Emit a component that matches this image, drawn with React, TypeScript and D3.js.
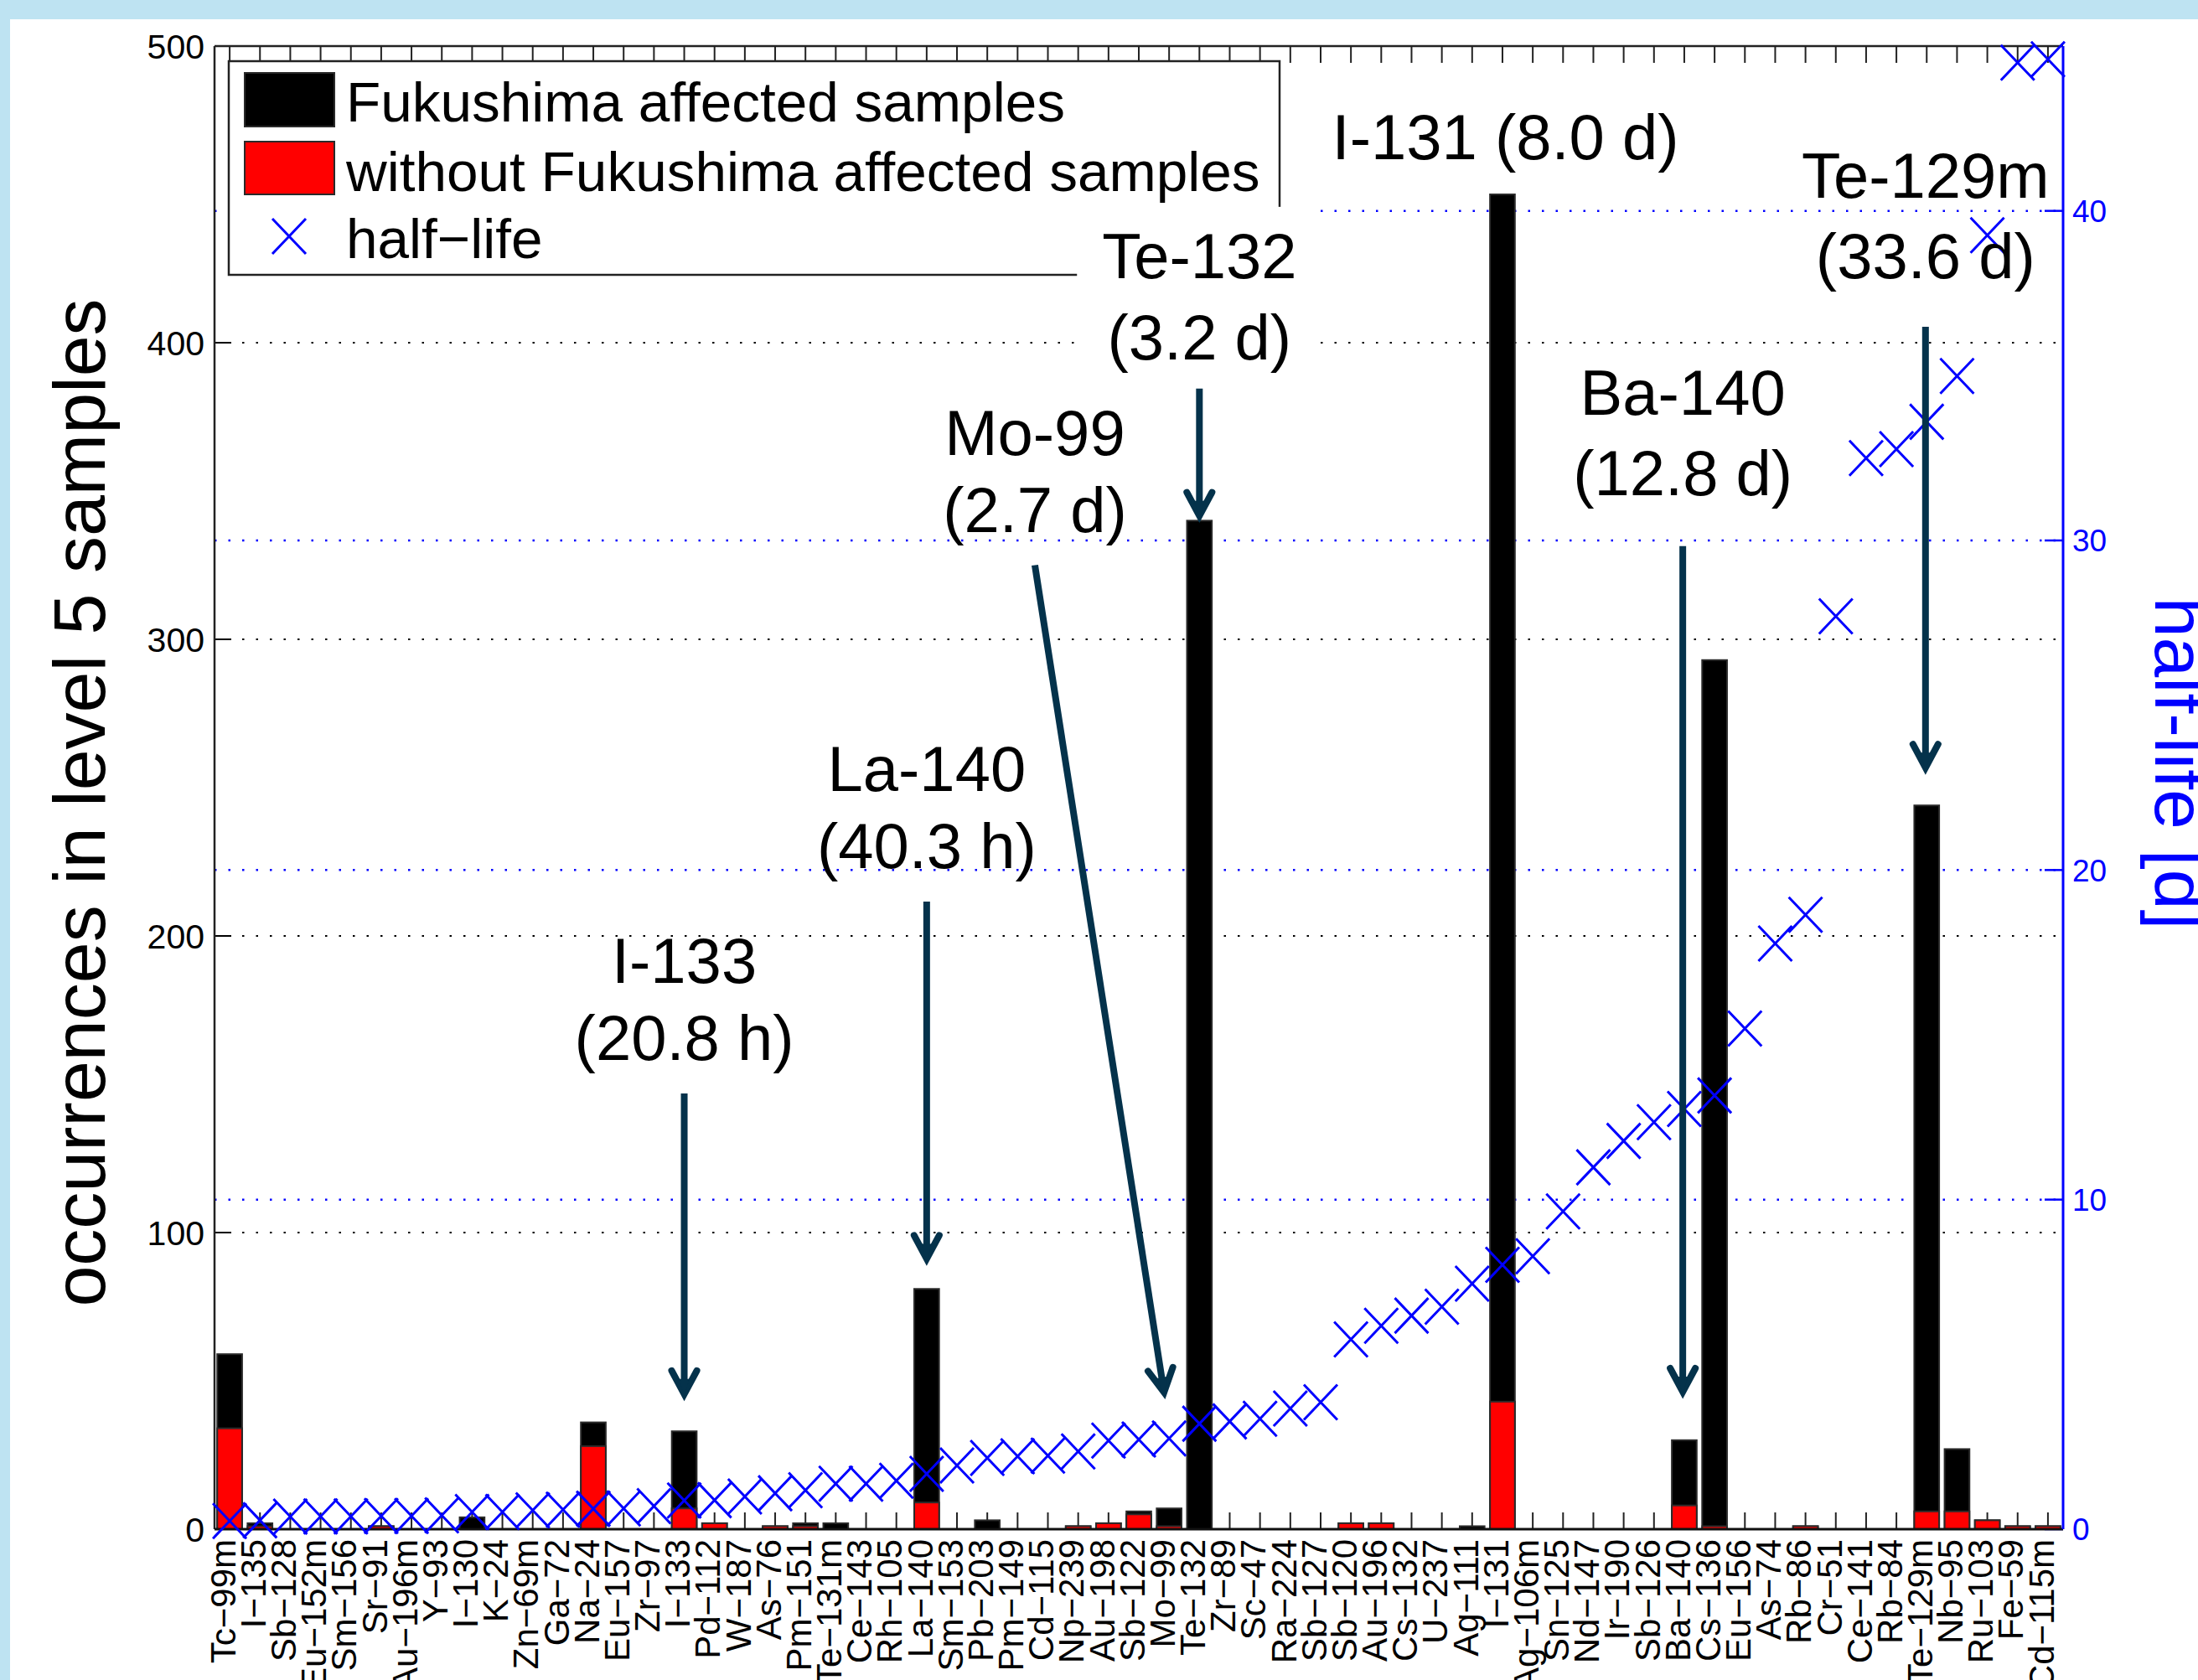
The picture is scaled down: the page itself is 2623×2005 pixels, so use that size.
import React, { useEffect } from "react";
import * as d3 from "d3";

// ---------- data ----------
const nuclides = [
  "Tc−99m", "I−135", "Sb−128", "Eu−152m", "Sm−156", "Sr−91", "Au−196m", "Y−93", "I−130", "K−24",
  "Zn−69m", "Ga−72", "Na−24", "Eu−157", "Zr−97", "I−133", "Pd−112", "W−187", "As−76", "Pm−151",
  "Te−131m", "Ce−143", "Rh−105", "La−140", "Sm−153", "Pb−203", "Pm−149", "Cd−115", "Np−239", "Au−198",
  "Sb−122", "Mo−99", "Te−132", "Zr−89", "Sc−47", "Ra−224", "Sb−127", "Sb−120", "Au−196", "Cs−132",
  "U−237", "Ag−111", "I−131", "Ag−106m", "Sn−125", "Nd−147", "Ir−190", "Sb−126", "Ba−140", "Cs−136",
  "Eu−156", "As−74", "Rb−86", "Cr−51", "Ce−141", "Rb−84", "Te−129m", "Nb−95", "Ru−103", "Fe−59",
  "Cd−115m",
];

// occurrences including Fukushima affected samples (black)
const fukushimaAffected = [
  59, 2, 0, 0, 0, 1, 0, 0, 4, 0,
  0, 0, 36, 0, 0, 33, 2, 0, 1, 2,
  2, 0, 0, 81, 0, 3, 0, 0, 1, 2,
  6, 7, 340, 0, 0, 0, 0, 2, 2, 0,
  0, 1, 450, 0, 0, 0, 0, 0, 30, 293,
  0, 0, 1, 0, 0, 0, 244, 27, 3, 1,
  1,
];

// occurrences without Fukushima affected samples (red)
const withoutFukushima = [
  34, 1, 0, 0, 0, 1, 0, 0, 0, 0,
  0, 0, 28, 0, 0, 7, 2, 0, 1, 1,
  0, 0, 0, 9, 0, 0, 0, 0, 1, 2,
  5, 1, 0, 0, 0, 0, 0, 2, 2, 0,
  0, 0, 43, 0, 0, 0, 0, 0, 8, 1,
  0, 0, 1, 0, 0, 0, 6, 6, 3, 1,
  1,
];

// half-life in days (blue crosses, right axis)
const halfLifeDays = [
  0.25, 0.27, 0.38, 0.39, 0.39, 0.40, 0.40, 0.42, 0.52, 0.52,
  0.57, 0.59, 0.62, 0.63, 0.70, 0.87, 0.88, 0.99, 1.09, 1.18,
  1.38, 1.38, 1.47, 1.68, 1.93, 2.16, 2.21, 2.23, 2.36, 2.69,
  2.72, 2.75, 3.20, 3.27, 3.35, 3.66, 3.85, 5.76, 6.17, 6.48,
  6.75, 7.45, 8.02, 8.28, 9.64, 10.98, 11.78, 12.35, 12.75, 13.16,
  15.19, 17.77, 18.64, 27.70, 32.50, 32.77, 33.60, 34.99, 39.26, 44.50,
  44.60,
];

const leftTicks = [0, 100, 200, 300, 400, 500];
const rightTicks = [0, 10, 20, 30, 40];
const leftGrid = [100, 200, 300, 400];
const rightGrid = [10, 20, 30, 40];

const legendLabels = ["Fukushima affected samples", "without Fukushima affected samples", "half−life"];

// annotations, in data coordinates (category index, left-axis value)
const annotations = [
  { lines: ["I-133", "(20.8 h)"], x: 15, y: [191.8, 165.8], arrow: [15, 146.9, 15, 44.4] },
  { lines: ["La-140", "(40.3 h)"], x: 23, y: [256.5, 230.5], arrow: [23, 211.6, 23, 90] },
  { lines: ["Mo-99", "(2.7 d)"], x: 26.57, y: [370, 344], arrow: [26.57, 325, 30.85, 45] },
  { lines: ["Te-132", "(3.2 d)"], x: 32, y: [429.4, 402], arrow: [32, 384.5, 32, 340.5], box: [27.96, 445.8, 36.0, 385] },
  { lines: ["I-131 (8.0 d)"], x: 42.1, y: [469.6] },
  { lines: ["Ba-140", "(12.8 d)"], x: 47.95, y: [383.3, 356.2], arrow: [47.95, 331.4, 47.95, 45.2] },
  { lines: ["Te-129m", "(33.6 d)"], x: 55.96, y: [456.5, 429.5], arrow: [55.96, 405.4, 55.96, 255.6] },
];

// ---------- layout ----------
const W = 2623;
const H = 2005;
const left = 256;
const right = 2462;
const top = 55;
const bottom = 1825;
const FONT = "'Liberation Sans', Arial, Helvetica, sans-serif";
const BLUE = "#0000ff";
const ARROW = "#04324b";

const x = d3.scaleLinear().domain([-0.5, nuclides.length - 0.5]).range([left, right]);
const yL = d3.scaleLinear().domain([0, 500]).range([bottom, top]);
const yR = d3.scaleLinear().domain([0, 45]).range([bottom, top]);
const bw = (x(1) - x(0)) * 0.82;

function Cross({ cx, cy, s = 20 }: { cx: number; cy: number; s?: number }) {
  return (
    <path
      d={`M${cx - s},${cy - s * 1.05}L${cx + s},${cy + s * 1.05}M${cx - s},${cy + s * 1.05}L${cx + s},${cy - s * 1.05}`}
      stroke={BLUE}
      strokeWidth={3}
      fill="none"
    />
  );
}

function Arrow({ a }: { a: number[] }) {
  const x1 = x(a[0]);
  const y1 = yL(a[1]);
  const x2 = x(a[2]);
  const y2 = yL(a[3]);
  const dx = x2 - x1;
  const dy = y2 - y1;
  const len = Math.hypot(dx, dy);
  const ux = dx / len;
  const uy = dy / len;
  const nx = -uy;
  const ny = ux;
  const L = 32;
  const Wd = 15;
  const wl = [x2 - L * ux + Wd * nx, y2 - L * uy + Wd * ny];
  const wr = [x2 - L * ux - Wd * nx, y2 - L * uy - Wd * ny];
  const tipIn = [x2 - 4 * ux, y2 - 4 * uy];
  return (
    <g>
      <line x1={x1} y1={y1} x2={x2 - 10 * ux} y2={y2 - 10 * uy} stroke={ARROW} strokeWidth={8} />
      <path
        d={`M${wl[0]},${wl[1]}L${tipIn[0]},${tipIn[1]}L${wr[0]},${wr[1]}`}
        stroke={ARROW}
        strokeWidth={8}
        strokeLinecap="round"
        strokeLinejoin="miter"
        fill="none"
      />
      <path
        d={`M${x2},${y2}L${x2 - 22 * ux + 6 * nx},${y2 - 22 * uy + 6 * ny}L${x2 - 22 * ux - 6 * nx},${y2 - 22 * uy - 6 * ny}Z`}
        fill={ARROW}
      />
    </g>
  );
}

export default function App() {
  useEffect(() => {
    document.body.style.margin = "0";
  }, []);

  const annF = 76;
  const idx = d3.range(nuclides.length);

  return (
    <svg width={W} height={H} style={{ display: "block", position: "absolute", left: 0, top: 0 }} fontFamily={FONT}>
      {/* background */}
      <rect x={0} y={0} width={W} height={H} fill="#bee3f2" />
      <rect x={12} y={23} width={W - 12} height={H - 23} fill="#ffffff" />

      {/* grid */}
      {leftGrid.map((v) => (
        <line key={"gl" + v} x1={left} x2={right} y1={yL(v)} y2={yL(v)} stroke="#000" strokeWidth={2} strokeDasharray="2.5 14" />
      ))}
      {rightGrid.map((v) => (
        <line key={"gr" + v} x1={left} x2={right} y1={yR(v)} y2={yR(v)} stroke={BLUE} strokeWidth={2.5} strokeDasharray="2.5 14" />
      ))}

      {/* ticks */}
      {idx.map((i) => (
        <g key={"t" + i}>
          <line x1={x(i)} x2={x(i)} y1={bottom} y2={bottom - 20} stroke="#222" strokeWidth={2} />
          <line x1={x(i)} x2={x(i)} y1={top} y2={top + 20} stroke="#222" strokeWidth={2} />
        </g>
      ))}
      {leftTicks.map((v) => (
        <line key={"lt" + v} x1={left} x2={left + 20} y1={yL(v)} y2={yL(v)} stroke="#000" strokeWidth={2} />
      ))}
      {rightTicks.map((v) => (
        <line key={"rt" + v} x1={right} x2={right - 22} y1={yR(v)} y2={yR(v)} stroke={BLUE} strokeWidth={2.5} />
      ))}

      {/* bars */}
      {idx.map((i) =>
        fukushimaAffected[i] > 0 ? (
          <rect
            key={"b" + i}
            x={x(i) - bw / 2}
            y={yL(fukushimaAffected[i])}
            width={bw}
            height={bottom - yL(fukushimaAffected[i])}
            fill="#000"
            stroke="#2a2a2a"
            strokeWidth={2}
          />
        ) : null
      )}
      {idx.map((i) =>
        withoutFukushima[i] > 0 ? (
          <rect
            key={"r" + i}
            x={x(i) - bw / 2}
            y={yL(withoutFukushima[i])}
            width={bw}
            height={bottom - yL(withoutFukushima[i])}
            fill="#ff0000"
            stroke="#2a2a2a"
            strokeWidth={2}
          />
        ) : null
      )}

      {/* axes lines */}
      <line x1={left} x2={left} y1={top} y2={bottom} stroke="#222" strokeWidth={2.5} />
      <line x1={left} x2={right} y1={top} y2={top} stroke="#222" strokeWidth={2.5} />
      <line x1={left} x2={right} y1={bottom} y2={bottom} stroke="#111" strokeWidth={3} />
      <line x1={right} x2={right} y1={top} y2={bottom} stroke={BLUE} strokeWidth={3} />

      {/* tick labels */}
      {leftTicks.map((v) => (
        <text key={"ll" + v} x={244} y={yL(v)} dy="0.36em" textAnchor="end" fontSize={41} fill="#000">
          {v}
        </text>
      ))}
      {rightTicks.map((v) => (
        <text key={"rl" + v} x={2473} y={yR(v)} dy="0.36em" textAnchor="start" fontSize={37} fill={BLUE}>
          {v}
        </text>
      ))}
      {idx.map((i) => (
        <text
          key={"xl" + i}
          transform={`translate(${x(i)},${1837}) rotate(-90)`}
          dy="0.16em"
          textAnchor="end"
          fontSize={42}
          fill="#000"
        >
          {nuclides[i]}
        </text>
      ))}

      {/* axis titles */}
      <text transform={`translate(125,958) rotate(-90)`} textAnchor="middle" fontSize={88} fill="#000">
        occurrences in level 5 samples
      </text>
      <text transform={`translate(2572,911) rotate(90)`} textAnchor="middle" fontSize={86} fill={BLUE}>
        half-life [d]
      </text>

      {/* legend */}
      <rect x={273} y={73} width={1254} height={255} fill="#fff" stroke="#222" strokeWidth={2.5} />
      <rect x={292} y={87} width={107} height={64} fill="#000" stroke="#2a2a2a" strokeWidth={2} />
      <rect x={292} y={169} width={107} height={63} fill="#ff0000" stroke="#2a2a2a" strokeWidth={2} />
      <Cross cx={345} cy={282} />
      {legendLabels.map((t, i) => (
        <text key={"lg" + i} x={413} y={[145, 228, 308][i]} fontSize={67.5} fill="#000">
          {t}
        </text>
      ))}

      {/* half-life crosses */}
      {idx.map((i) => (
        <Cross key={"c" + i} cx={x(i)} cy={yR(halfLifeDays[i])} />
      ))}

      {/* annotations */}
      {annotations.map((a, k) => (
        <g key={"an" + k}>
          {a.box ? (
            <rect
              x={x(a.box[0])}
              y={yL(a.box[1])}
              width={x(a.box[2]) - x(a.box[0])}
              height={yL(a.box[3]) - yL(a.box[1])}
              fill="#fff"
            />
          ) : null}
          {a.lines.map((ln, j) => (
            <text key={j} x={x(a.x)} y={yL(a.y[j])} dy="0.36em" textAnchor="middle" fontSize={annF} fill="#000">
              {ln}
            </text>
          ))}
          {a.arrow ? <Arrow a={a.arrow} /> : null}
        </g>
      ))}
    </svg>
  );
}
